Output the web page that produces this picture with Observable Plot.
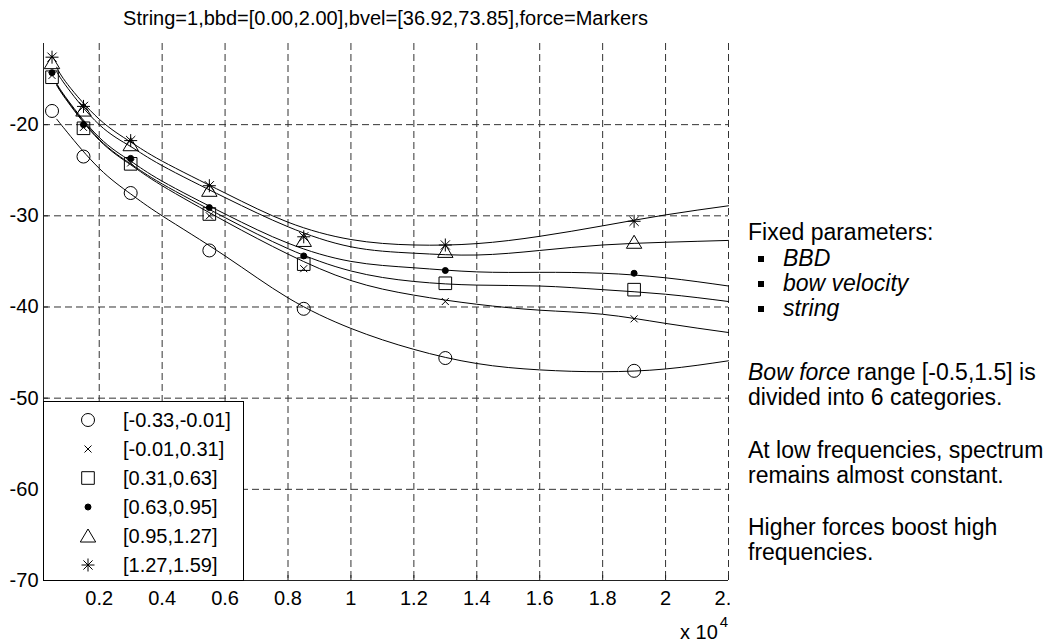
<!DOCTYPE html>
<html><head><meta charset="utf-8">
<script src="https://cdn.jsdelivr.net/npm/d3@7"></script>
<script src="https://cdn.jsdelivr.net/npm/@observablehq/plot@0.6"></script>
<style>
body{margin:0;background:#fff;font-family:"Liberation Sans",Arial,sans-serif;}
#wrap{position:relative;width:1059px;height:644px;overflow:hidden;background:#fff;}
.abs{position:absolute;white-space:nowrap;color:#000;}
#chart{position:absolute;left:0;top:0;}
.note{font-size:23px;line-height:26px;}
.bullet{display:inline-block;width:6px;height:6px;background:#000;position:absolute;left:-25px;top:11px;}
</style></head><body><div id="wrap"><div id="chart"></div></div>
<script>
// ---- data (x in units of 10^4 Hz, y in dB) ----
const categories = ["[-0.33,-0.01]", "[-0.01,0.31]", "[0.31,0.63]", "[0.63,0.95]", "[0.95,1.27]", "[1.27,1.59]"];
const markerFreqs = [0.05, 0.15, 0.3, 0.55, 0.85, 1.3, 1.9];
const circleVals   = [-18.5, -23.5, -27.5, -33.8, -40.2, -45.6, -47.0];
const crossVals    = [-14.6, -20.3, -24.2, -30.0, -35.8, -39.4, -41.3];
const squareVals   = [-14.8, -20.4, -24.3, -29.8, -35.3, -37.4, -38.1];
const dotVals      = [-14.3, -20.0, -23.7, -29.1, -34.4, -36.0, -36.3];
const triangleVals = [-13.2, -18.4, -22.2, -27.2, -32.7, -33.9, -32.9];
const starVals     = [-12.6, -18.0, -21.75, -26.7, -32.3, -33.2, -30.6];

const fitFreqs = [0.065, 0.1, 0.2, 0.3, 0.4, 0.6, 0.8, 1.0, 1.2, 1.4, 1.6, 1.8, 2.0, 2.2];
const circleFit   = [-19.4, -20.9, -24.8, -27.6, -30.0, -34.4, -39.0, -42.35, -44.65, -46.2, -46.9, -47.1, -46.8, -45.9];
const crossFit    = [-15.7, -17.5, -21.7, -24.4, -26.7, -30.6, -34.2, -37.1, -38.7, -39.7, -40.35, -40.8, -41.8, -42.8];
const squareFit   = [-15.6, -17.4, -21.6, -24.3, -26.5, -30.2, -33.6, -36.05, -37.2, -37.6, -37.7, -38.1, -38.6, -39.4];
const dotFit      = [-15.5, -17.3, -21.4, -24.0, -26.2, -29.8, -33.0, -35.0, -35.7, -36.15, -36.2, -36.3, -36.8, -37.7];
const triangleFit = [-14.2, -16.0, -20.0, -22.4, -24.5, -28.0, -31.2, -33.4, -34.1, -34.3, -33.8, -33.2, -32.9, -32.7];
const starFit     = [-13.7, -15.6, -19.4, -21.9, -24.0, -27.5, -30.7, -32.6, -33.2, -33.05, -32.25, -31.1, -29.9, -28.9];

const xTicks = [0.2, 0.4, 0.6, 0.8, 1, 1.2, 1.4, 1.6, 1.8, 2, 2.2];
const yTicks = [-70, -60, -50, -40, -30, -20];
const xDomain = [0.0229, 2.2];
const yDomain = [-70, -11.1];

const title = "String=1,bbd=[0.00,2.00],bvel=[36.92,73.85],force=Markers";

// ---- MATLAB-like marker shapes ----
const rad = s => Math.sqrt(s / Math.PI);
const symTimes = {draw(c, s){const r = rad(s); c.moveTo(-r,-r); c.lineTo(r,r); c.moveTo(-r,r); c.lineTo(r,-r);}};
const symSquare = {draw(c, s){const r = rad(s); c.moveTo(-r,-r); c.lineTo(r,-r); c.lineTo(r,r); c.lineTo(-r,r); c.closePath();}};
const symTri = {draw(c, s){const r = rad(s); c.moveTo(0,-r); c.lineTo(1.1*r,0.86*r); c.lineTo(-1.1*r,0.86*r); c.closePath();}};
const symStar = {draw(c, s){const r = rad(s), d = r*Math.SQRT1_2;
  c.moveTo(0,-r); c.lineTo(0,r); c.moveTo(-r,0); c.lineTo(r,0);
  c.moveTo(-d,-d); c.lineTo(d,d); c.moveTo(-d,d); c.lineTo(d,-d);}};

const series = [
  {name: categories[0], vals: circleVals,   fit: circleFit,   symbol: "circle",  r: 6.5, fill: "none"},
  {name: categories[1], vals: crossVals,    fit: crossFit,    symbol: symTimes,  r: 3.5, fill: "none"},
  {name: categories[2], vals: squareVals,   fit: squareFit,   symbol: symSquare, r: 6.3, fill: "none"},
  {name: categories[3], vals: dotVals,      fit: dotFit,      symbol: "circle",  r: 3,   fill: "black"},
  {name: categories[4], vals: triangleVals, fit: triangleFit, symbol: symTri,    r: 7,   fill: "none"},
  {name: categories[5], vals: starVals,     fit: starFit,     symbol: symStar,   r: 6.5, fill: "none"}
];

const fitRows = series.flatMap(s => fitFreqs.map((f, i) => ({s: s.name, f, v: s.fit[i]})));

const font = '"Liberation Sans", Arial, sans-serif';
const fmt = d => String(d);
const plot = Plot.plot({
  width: 730, height: 644,
  marginLeft: 43, marginRight: 2, marginTop: 43, marginBottom: 64,
  style: {fontFamily: font, fontSize: "20px", background: "transparent", color: "#000"},
  x: {domain: xDomain},
  y: {domain: yDomain},
  marks: [
    Plot.gridX(xTicks, {stroke: "#333", strokeOpacity: 1, strokeDasharray: "7,4"}),
    Plot.gridY(yTicks, {stroke: "#333", strokeOpacity: 1, strokeDasharray: "7,4"}),
    Plot.line(fitRows, {x: "f", y: "v", z: "s", curve: "natural", stroke: "black", strokeWidth: 1}),
    ...series.map(s => Plot.dot(markerFreqs.map((f, i) => ({f, v: s.vals[i]})),
      {x: "f", y: "v", symbol: () => s.symbol, r: s.r, fill: s.fill, stroke: "black", strokeWidth: 1})),
    Plot.ruleX([xDomain[0]], {stroke: "#222"}),
    Plot.ruleY([yDomain[0]], {stroke: "#222"}),
    Plot.axisY(yTicks, {tickSize: 0, tickPadding: 5, label: null, fontSize: 20, tickFormat: fmt}),
    Plot.axisY(yTicks, {tickSize: -5, tickFormat: () => "", label: null, stroke: "#222"}),
    Plot.axisX(xTicks, {tickSize: 0, tickPadding: 10, label: null, fontSize: 20, tickFormat: fmt}),
    Plot.axisX(xTicks, {tickSize: -5, tickFormat: () => "", label: null, stroke: "#222"})
  ]
});
document.getElementById("chart").appendChild(plot);

const wrap = document.getElementById("wrap");
function addDiv(html, style, cls) {
  const d = document.createElement("div");
  d.className = "abs" + (cls ? " " + cls : "");
  d.innerHTML = html;
  Object.assign(d.style, style);
  wrap.appendChild(d);
  return d;
}
// title
addDiv(title, {left: "43px", width: "685px", textAlign: "center", top: "5px", fontSize: "20px", lineHeight: "26px"});
// x exponent label
addDiv('x 10<span style="position:relative;top:-12px;font-size:15px;margin-left:2px">4</span>',
  {left: "680px", top: "622px", fontSize: "20px", lineHeight: "20px"});

// legend
const leg = addDiv("", {left: "43px", top: "401px", width: "199px", height: "178px",
  border: "1px solid #000", background: "#fff"});
series.forEach((s, i) => {
  const cy = 17.5 + 29 * i;
  const svg = d3.select(leg).append("svg").attr("width", 30).attr("height", 30)
    .style("position", "absolute").style("left", (43.7 - 15) + "px").style("top", (cy - 15) + "px");
  const type = s.symbol === "circle" ? d3.symbolCircle : s.symbol;
  svg.append("path").attr("transform", "translate(15,15)")
    .attr("d", d3.symbol(type, Math.PI * s.r * s.r)())
    .attr("fill", s.fill).attr("stroke", "black").attr("stroke-width", 1);
  const t = document.createElement("div");
  t.className = "abs";
  t.textContent = s.name;
  Object.assign(t.style, {left: "79px", top: (cy - 13) + "px", fontSize: "20px", lineHeight: "26px"});
  leg.appendChild(t);
});

// notes on the right
const notes = [
  {html: "Fixed parameters:", y: 232, x: 748},
  {html: '<span class="bullet"></span><i>BBD</i>', y: 258, x: 783},
  {html: '<span class="bullet"></span><i>bow velocity</i>', y: 283, x: 783},
  {html: '<span class="bullet"></span><i>string</i>', y: 308, x: 783},
  {html: "<i>Bow force</i> range [-0.5,1.5] is", y: 372, x: 748},
  {html: "divided into 6 categories.", y: 397, x: 748},
  {html: "At low frequencies, spectrum", y: 450, x: 748},
  {html: "remains almost constant.", y: 475, x: 748},
  {html: "Higher forces boost high", y: 527, x: 748},
  {html: "frequencies.", y: 552, x: 748}
];
notes.forEach(n => addDiv(n.html, {left: n.x + "px", top: (n.y - 13) + "px"}, "note"));
</script>
</body></html>
